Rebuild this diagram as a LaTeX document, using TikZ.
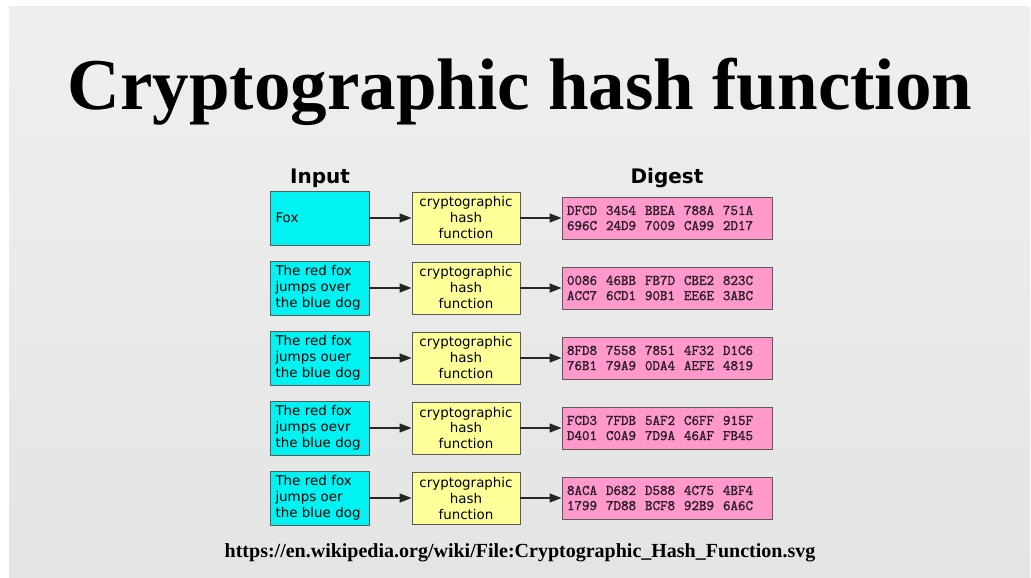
\documentclass[tikz,border=0pt]{standalone}
\usepackage{fontspec}
\setmainfont{Liberation Serif}
\newfontfamily\boxfont{DejaVu Sans}
\newfontfamily\hashfont[FakeBold=1.6]{Latin Modern Mono}
\usetikzlibrary{arrows.meta}
\definecolor{bgtop}{HTML}{EFEFEF}
\definecolor{bgbot}{HTML}{E4E4E4}
\definecolor{incol}{HTML}{00F2F2}
\definecolor{fncol}{HTML}{FFFF99}
\definecolor{dgcol}{HTML}{FF99CC}
\definecolor{edgecol}{HTML}{5A5A5A}
\definecolor{hashink}{HTML}{2A1F2A}
\newcommand{\hashgrp}[1]{\makebox[39pt][l]{#1}}
\newcommand{\hashrow}[5]{\hashgrp{#1}\hashgrp{#2}\hashgrp{#3}\hashgrp{#4}#5}
\tikzset{
  inbox/.style={draw=edgecol, line width=0.9pt, fill=incol, minimum height=54pt,
    text width=88pt, inner xsep=5.5pt, inner ysep=0pt, align=left,
    font=\boxfont\fontsize{13.4}{16}\selectfont},
  fnbox/.style={draw=edgecol, line width=0.9pt, fill=fncol, minimum height=52pt,
    minimum width=108pt, inner sep=0pt, align=center,
    font=\boxfont\fontsize{13.4}{16}\selectfont},
  dgbox/.style={draw=edgecol, line width=0.9pt, fill=dgcol, minimum height=42pt,
    text width=200pt, inner xsep=5pt, inner ysep=0pt, align=left, text=hashink,
    font=\hashfont\fontsize{14.6}{15.2}\selectfont},
  head/.style={anchor=base, font=\boxfont\bfseries\fontsize{20}{24}\selectfont},
  conn/.style={line width=1.4pt, draw=black!85, -{Triangle[length=12pt,width=9pt]}}
}
\begin{document}
\begin{tikzpicture}[x=1pt,y=-1pt]
\useasboundingbox (0,0) rectangle (1031,578);
\fill[white] (0,0) rectangle (1031,578);
\shade[top color=bgtop, bottom color=bgbot] (9,7) rectangle (1030,578);
\node[anchor=base, font=\bfseries\fontsize{73}{80}\selectfont] (title) at (520,110) {Cryptographic hash function};
\node[head] (hin) at (320,183) {Input};
\node[head] (hdg) at (667,183) {Digest};
\node[inbox] (in1) at (319.5,218) {Fox};
\node[inbox] (in2) at (319.5,288) {The red fox\\jumps over\\the blue dog};
\node[inbox] (in3) at (319.5,358) {The red fox\\jumps ouer\\the blue dog};
\node[inbox] (in4) at (319.5,428) {The red fox\\jumps oevr\\the blue dog};
\node[inbox] (in5) at (319.5,498) {The red fox\\jumps oer\\the blue dog};
\foreach \i/\y in {1/218,2/288,3/358,4/428,5/498}{
  \node[fnbox] (h\i) at (466,\y) {cryptographic\\hash\\function};
}
\node[dgbox] (d1) at (667,218) {\hashrow{DFCD}{3454}{BBEA}{788A}{751A}\\\hashrow{696C}{24D9}{7009}{CA99}{2D17}};
\node[dgbox] (d2) at (667,288) {\hashrow{0086}{46BB}{FB7D}{CBE2}{823C}\\\hashrow{ACC7}{6CD1}{90B1}{EE6E}{3ABC}};
\node[dgbox] (d3) at (667,358) {\hashrow{8FD8}{7558}{7851}{4F32}{D1C6}\\\hashrow{76B1}{79A9}{0DA4}{AEFE}{4819}};
\node[dgbox] (d4) at (667,428) {\hashrow{FCD3}{7FDB}{5AF2}{C6FF}{915F}\\\hashrow{D401}{C0A9}{7D9A}{46AF}{FB45}};
\node[dgbox] (d5) at (667,498) {\hashrow{8ACA}{D682}{D588}{4C75}{4BF4}\\\hashrow{1799}{7D88}{BCF8}{92B9}{6A6C}};
\foreach \i in {1,...,5}{
  \draw[conn] (in\i.east) -- (h\i.west);
  \draw[conn] (h\i.east) -- (d\i.west);
}
\node[anchor=base, font=\bfseries\fontsize{20}{24}\selectfont] (url) at (520,557) {https://en.wikipedia.org/wiki/File:Cryptographic\_Hash\_Function.svg};
\end{tikzpicture}
\end{document}
